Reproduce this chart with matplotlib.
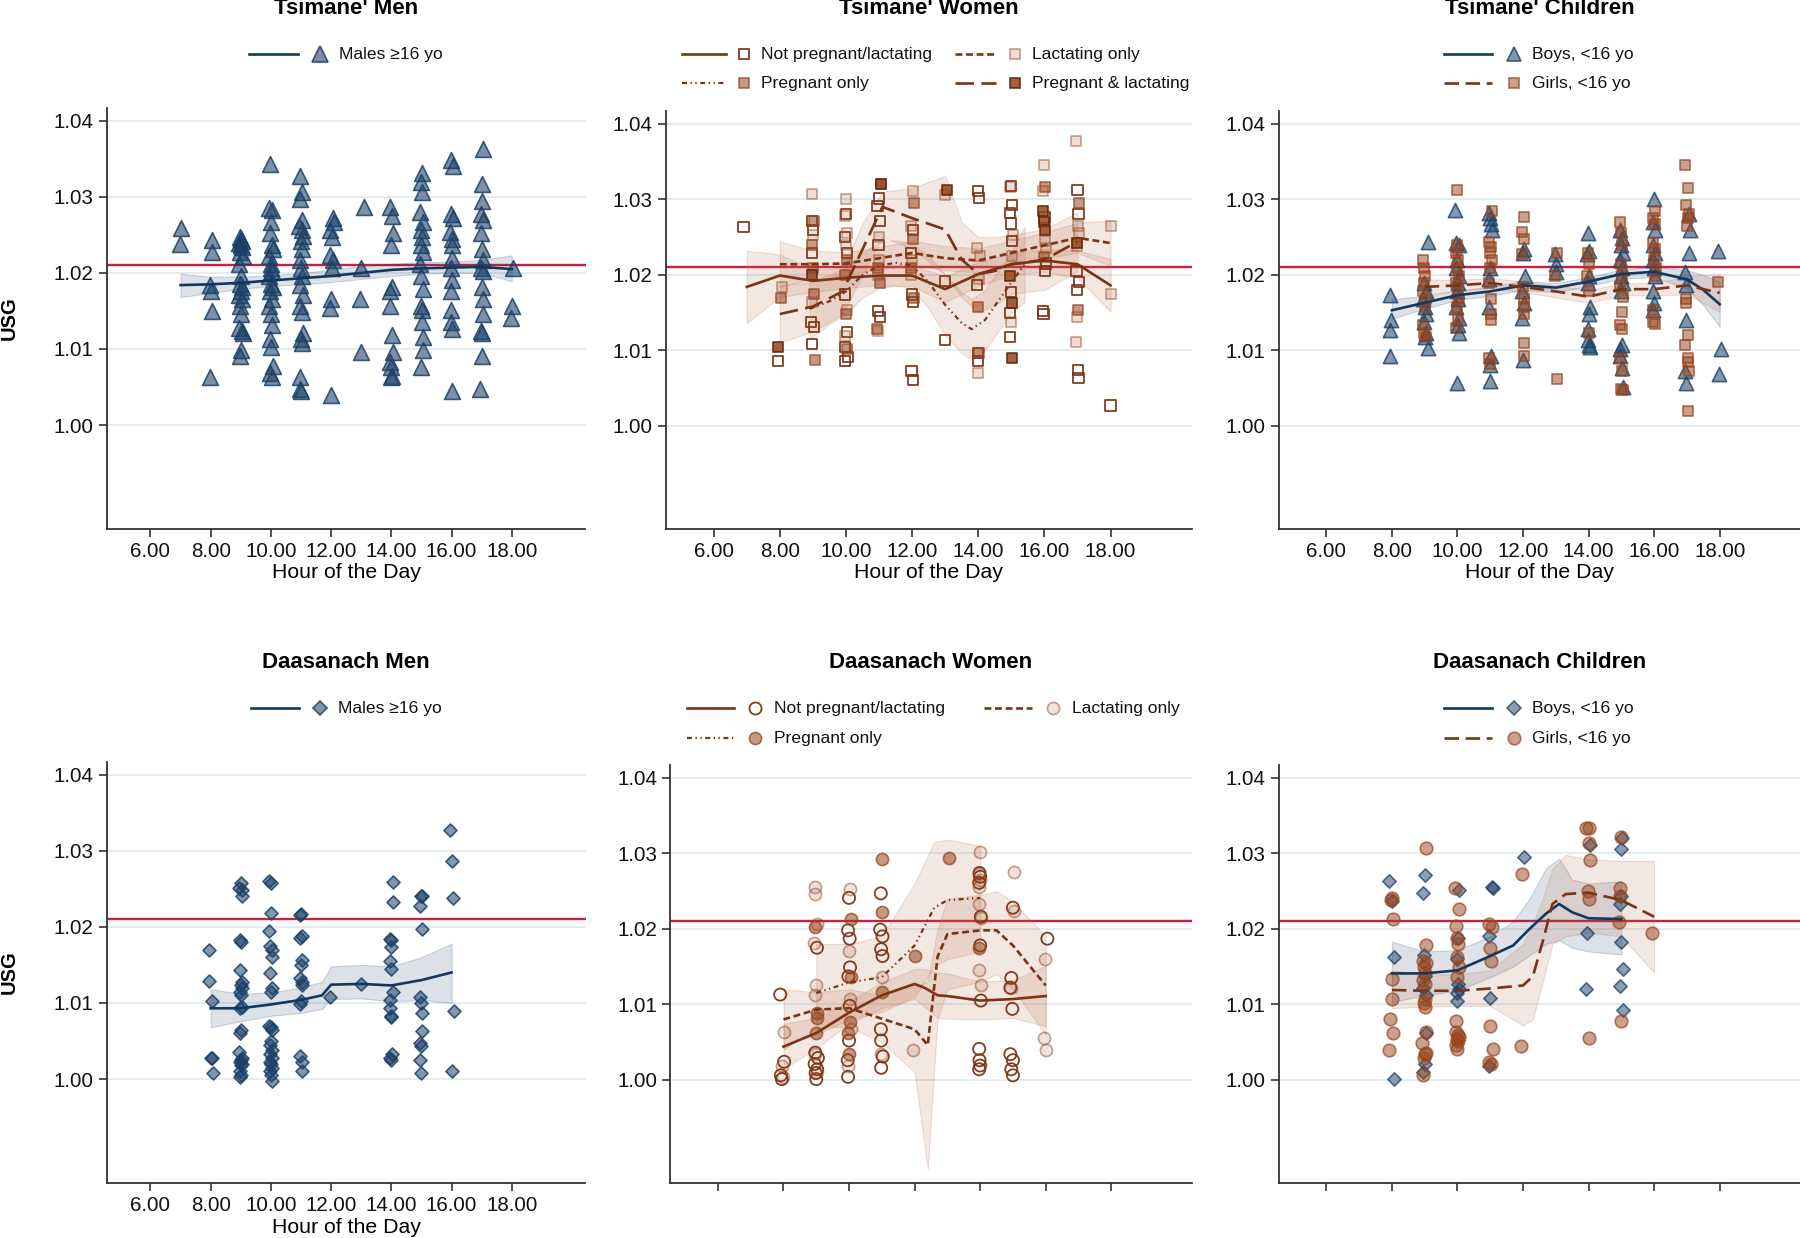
import matplotlib
matplotlib.use('Agg')
import matplotlib.pyplot as plt
from matplotlib.lines import Line2D
from matplotlib.colors import to_rgba

plt.rcParams['font.family'] = ['Liberation Sans', 'DejaVu Sans']

# ---------------- axis ticks ----------------
XTICKS = [6, 8, 10, 12, 14, 16, 18]
XTICKLABELS = ['6.00', '8.00', '10.00', '12.00', '14.00', '16.00', '18.00']
YTICKS = [1.00, 1.01, 1.02, 1.03, 1.04]
YTICKLABELS = ['1.00', '1.01', '1.02', '1.03', '1.04']
THRESHOLD = 1.021

TITLES = ["Tsimane' Men", "Tsimane' Women", "Tsimane' Children",
          "Daasanach Men", "Daasanach Women", "Daasanach Children"]

# ---------------- Tsimane' men ----------------
tm_men_hour = [7.02, 6.97,
               8.03, 8.06, 7.97, 8.02, 8.05, 7.98,
               8.98, 9.02, 9.05, 8.95, 9.0, 9.03, 8.97, 9.06, 8.94, 9.01, 8.96, 9.04, 9.0, 8.93, 9.05, 8.98, 9.02, 8.95, 9.03, 9.07, 9.0, 8.98,
               9.98, 9.93, 10.05, 10.0, 9.96, 10.03, 10.07, 9.95, 10.02, 9.99, 10.04, 9.94, 10.01, 10.06, 9.97, 10.03, 9.95, 10.0, 10.04, 9.97, 10.02, 10.06, 9.98, 10.04,
               10.98, 11.03, 10.97, 11.05, 10.95, 11.02, 11.06, 10.99, 11.04, 10.96, 11.01, 11.05, 10.98, 11.07, 10.97, 11.02, 11.06, 10.99, 11.04, 10.98, 10.96, 11.01,
               12.05, 12.1, 11.96, 12.03, 11.98, 12.06, 12.02, 12.0, 11.97, 12.0,
               13.1, 13.0, 12.95, 13.0,
               13.95, 14.03, 14.05, 13.98, 14.02, 13.97, 13.94, 14.03, 14.04, 13.97, 14.0, 14.03, 13.99,
               15.02, 14.98, 15.03, 14.95, 15.05, 14.97, 15.02, 14.99, 15.04, 14.96, 15.0, 15.05, 14.97, 15.01, 15.03, 15.05, 15.04, 14.97,
               15.98, 16.05, 15.97, 16.04, 15.96, 16.02, 16.0, 16.03, 15.97, 16.01, 15.99, 15.97, 15.98, 16.0, 16.03,
               17.03, 17.0, 17.02, 16.98, 17.05, 16.97, 17.02, 17.04, 16.99, 17.06, 17.0, 17.03, 17.05, 16.98, 17.02, 17.01, 16.95,
               18.05, 18.02, 17.98]
tm_men_usg = [1.0259, 1.0238,
              1.0243, 1.0228, 1.0184, 1.0176, 1.0150, 1.0063,
              1.0247, 1.0244, 1.0242, 1.0239, 1.0237, 1.0234, 1.0227, 1.0222, 1.0212, 1.0196, 1.0186, 1.0181, 1.0176, 1.0171, 1.0166, 1.0156, 1.0146, 1.0128, 1.0123, 1.0121, 1.0098, 1.0091,
              1.0343, 1.0285, 1.0283, 1.0267, 1.0252, 1.0237, 1.0232, 1.0222, 1.0212, 1.0207, 1.0202, 1.0196, 1.0186, 1.0181, 1.0176, 1.0166, 1.0156, 1.0146, 1.0131, 1.0113, 1.0103, 1.0078, 1.0068, 1.0063,
              1.0327, 1.0307, 1.0297, 1.0270, 1.0262, 1.0257, 1.0249, 1.0242, 1.0232, 1.0217, 1.0207, 1.0196, 1.0184, 1.0171, 1.0156, 1.0149, 1.0121, 1.0113, 1.0108, 1.0063, 1.0048, 1.0045,
              1.0272, 1.0267, 1.0257, 1.0247, 1.0224, 1.0217, 1.0207, 1.0166, 1.0154, 1.0040,
              1.0287, 1.0207, 1.0166, 1.0096,
              1.0287, 1.0275, 1.0252, 1.0237, 1.0181, 1.0176, 1.0156, 1.0118, 1.0096, 1.0083, 1.0076, 1.0065, 1.0063,
              1.0332, 1.0320, 1.0307, 1.0280, 1.0267, 1.0257, 1.0247, 1.0237, 1.0227, 1.0212, 1.0196, 1.0179, 1.0156, 1.0151, 1.0136, 1.0116, 1.0098, 1.0076,
              1.0348, 1.0340, 1.0277, 1.0272, 1.0254, 1.0244, 1.0237, 1.0219, 1.0207, 1.0191, 1.0176, 1.0151, 1.0136, 1.0126, 1.0045,
              1.0363, 1.0317, 1.0295, 1.0277, 1.0270, 1.0252, 1.0232, 1.0217, 1.0207, 1.0202, 1.0181, 1.0166, 1.0146, 1.0123, 1.0121, 1.0091, 1.0048,
              1.0207, 1.0156, 1.0141]
tm_men_fit_hour = [7, 8, 9, 10, 11, 12, 13, 14, 15, 16, 17, 18]
tm_men_fit = [1.0184, 1.0185, 1.0187, 1.0190, 1.0193, 1.0196, 1.0200, 1.0204, 1.0206, 1.0207, 1.0208, 1.0205]
tm_men_lo = [1.0168, 1.0174, 1.0179, 1.0183, 1.0185, 1.0188, 1.0192, 1.0196, 1.0199, 1.0200, 1.0200, 1.0189]
tm_men_hi = [1.0199, 1.0195, 1.0195, 1.0197, 1.0200, 1.0204, 1.0209, 1.0212, 1.0214, 1.0215, 1.0217, 1.0223]

# ---------------- Tsimane' women ----------------
tw_np_hour = [6.9, 7.95,
              8.98, 9.0, 8.96, 8.94, 9.02, 8.97,
              10.0, 9.98, 10.02, 9.97, 10.03, 9.96, 10.05, 9.97,
              11.0, 10.95, 11.02, 10.98, 10.97, 11.03,
              12.02, 11.96, 12.0, 12.03, 11.98, 12.03,
              13.0, 13.0,
              14.0, 14.03, 13.97, 13.98, 14.0,
              14.98, 15.02, 14.97, 15.0, 15.02, 15.0, 14.97, 14.96,
              16.0, 16.04, 16.02, 15.96, 15.97,
              17.0, 17.03, 16.97, 17.04, 16.98, 17.02, 17.03,
              18.0]
tw_np_usg = [1.0263, 1.0086,
             1.0271, 1.0259, 1.0229, 1.0138, 1.0131, 1.0108,
             1.0281, 1.0250, 1.0229, 1.0174, 1.0124, 1.0104, 1.0091, 1.0086,
             1.0301, 1.0291, 1.0271, 1.0240, 1.0152, 1.0144,
             1.0259, 1.0229, 1.0174, 1.0164, 1.0073, 1.0061,
             1.0192, 1.0114,
             1.0311, 1.0302, 1.0187, 1.0096, 1.0086,
             1.0318, 1.0293, 1.0282, 1.0268, 1.0245, 1.0177, 1.0149, 1.0118,
             1.0276, 1.0215, 1.0205, 1.0152, 1.0148,
             1.0312, 1.0281, 1.0205, 1.0190, 1.0180, 1.0074, 1.0063,
             1.0027]
tw_lac_hour = [8.05,
               8.96, 9.0, 8.98,
               10.0, 9.98, 10.02, 10.0, 10.03, 9.97,
               11.0, 11.0, 10.97, 10.98,
               12.03, 11.95, 12.0, 11.97,
               13.0,
               13.95, 14.05, 14.02, 13.98,
               14.95, 15.05, 15.03, 15.0,
               16.0, 15.97, 16.02, 16.04,
               16.95, 17.0, 17.03, 16.97, 16.98, 16.95,
               18.0, 18.0]
tw_lac_usg = [1.0184,
              1.0307, 1.0253, 1.0164,
              1.0300, 1.0278, 1.0256, 1.0240, 1.0154, 1.0119,
              1.0250, 1.0220, 1.0200, 1.0126,
              1.0311, 1.0264, 1.0220, 1.0200,
              1.0306,
              1.0235, 1.0225, 1.0195, 1.0070,
              1.0316, 1.0253, 1.0225, 1.0138,
              1.0346, 1.0311, 1.0245, 1.0235,
              1.0377, 1.0265, 1.0255, 1.0238, 1.0144, 1.0111,
              1.0264, 1.0174]
tw_preg_hour = [8.02,
                9.02, 8.97, 9.0, 9.03, 9.05,
                10.02, 9.98, 10.0, 10.04,
                11.05, 10.98, 11.02, 10.95,
                12.05, 12.03, 11.97, 12.06,
                14.0, 14.02,
                16.02, 15.98,
                17.03, 17.02]
tw_preg_usg = [1.0169,
               1.0271, 1.0240, 1.0209, 1.0174, 1.0087,
               1.0220, 1.0200, 1.0148, 1.0102,
               1.0320, 1.0209, 1.0189, 1.0128,
               1.0295, 1.0247, 1.0209, 1.0169,
               1.0158, 1.0097,
               1.0316, 1.0224,
               1.0295, 1.0153]
tw_pl_hour = [7.95, 8.97, 11.05, 13.05, 14.97, 15.03, 15.02, 15.95, 16.0, 16.03, 16.97]
tw_pl_usg = [1.0105, 1.0200, 1.0320, 1.0313, 1.0199, 1.0163, 1.0090, 1.0285, 1.0270, 1.0260, 1.0242]

tw_np_fit_hour = [7, 8, 9, 10, 11, 12, 13, 14, 15, 16, 17, 18]
tw_np_fit = [1.0184, 1.0199, 1.0192, 1.0196, 1.0199, 1.0199, 1.0181, 1.0201, 1.0214, 1.0219, 1.0214, 1.0186]
tw_np_lo = [1.0136, 1.0171, 1.0177, 1.0183, 1.0186, 1.0185, 1.0164, 1.0185, 1.0200, 1.0204, 1.0196, 1.0151]
tw_np_hi = [1.0232, 1.0227, 1.0207, 1.0209, 1.0212, 1.0213, 1.0198, 1.0217, 1.0228, 1.0234, 1.0232, 1.0221]
tw_lac_fit_hour = [8, 9, 10, 11, 12, 13, 14, 15, 16, 17, 18]
tw_lac_fit = [1.0214, 1.0214, 1.0215, 1.0222, 1.0229, 1.0222, 1.0219, 1.0229, 1.0239, 1.0249, 1.0242]
tw_lac_lo = [1.0184, 1.0196, 1.0200, 1.0207, 1.0213, 1.0206, 1.0203, 1.0213, 1.0222, 1.0229, 1.0212]
tw_lac_hi = [1.0244, 1.0232, 1.0230, 1.0237, 1.0245, 1.0238, 1.0235, 1.0245, 1.0256, 1.0269, 1.0272]
tw_preg_fit_hour = [8.9, 9.5, 10, 10.5, 11, 11.5, 12, 12.5, 13, 13.5, 13.8, 14.2, 14.6, 15, 15.4]
tw_preg_fit = [1.0155, 1.0165, 1.0178, 1.0200, 1.0212, 1.0216, 1.0212, 1.0190, 1.0160, 1.0136, 1.0128, 1.0140, 1.0165, 1.0190, 1.0214]
tw_preg_lo = [1.0115, 1.0135, 1.0148, 1.0170, 1.0182, 1.0186, 1.0182, 1.0155, 1.0120, 1.0096, 1.0088, 1.0100, 1.0125, 1.0150, 1.0164]
tw_preg_hi = [1.0195, 1.0195, 1.0208, 1.0230, 1.0242, 1.0246, 1.0242, 1.0225, 1.0200, 1.0176, 1.0168, 1.0180, 1.0205, 1.0230, 1.0264]
tw_pl_fit_hour = [8, 9, 9.9, 10.5, 11.1, 12, 13, 13.5, 14, 14.5, 15, 16, 17]
tw_pl_fit = [1.0148, 1.0158, 1.0178, 1.0234, 1.0290, 1.0275, 1.0260, 1.0220, 1.0201, 1.0205, 1.0214, 1.0220, 1.0244]
tw_pl_lo = [1.0110, 1.0125, 1.0148, 1.0200, 1.0250, 1.0235, 1.0200, 1.0170, 1.0150, 1.0160, 1.0175, 1.0180, 1.0205]
tw_pl_hi = [1.0186, 1.0191, 1.0208, 1.0268, 1.0310, 1.0315, 1.0331, 1.0270, 1.0250, 1.0250, 1.0253, 1.0260, 1.0283]

# ---------------- Tsimane' children ----------------
tc_boy_hour = [7.95, 7.98, 7.93, 7.94,
               9.1, 8.97, 9.05, 8.95, 9.0, 9.03, 8.98, 9.05, 9.02, 9.1,
               9.93, 9.95, 10.05, 10.0, 9.97, 10.04, 10.02, 9.98, 10.03, 9.96, 10.05, 10.01, 10.04, 9.98,
               10.95, 10.98, 11.02, 11.05, 11.0, 10.97, 10.96, 11.03, 10.98, 11.0,
               12.03, 12.0, 12.05, 11.97, 12.02, 11.98, 11.99,
               12.98, 13.02, 13.0,
               13.97, 14.02, 13.95, 14.0, 13.98, 14.03, 14.01, 13.98, 13.97, 14.02, 14.04,
               14.95, 15.02, 14.98, 15.04, 14.96, 15.03, 14.99, 15.05, 15.0, 15.02, 14.97, 14.95, 15.03, 15.06,
               16.0, 15.97, 16.02, 15.98, 16.03, 15.96, 16.01, 16.04, 15.97, 16.0, 15.98,
               17.05, 17.08, 17.07, 16.95, 16.97, 16.98, 16.95, 16.97,
               17.95, 18.05, 17.98]
tc_boy_usg = [1.0173, 1.0140, 1.0127, 1.0092,
              1.0244, 1.0189, 1.0178, 1.0168, 1.0158, 1.0148, 1.0138, 1.0123, 1.0118, 1.0103,
              1.0286, 1.0242, 1.0239, 1.0219, 1.0209, 1.0199, 1.0189, 1.0178, 1.0168, 1.0158, 1.0143, 1.0133, 1.0123, 1.0057,
              1.0282, 1.0275, 1.0267, 1.0260, 1.0209, 1.0194, 1.0158, 1.0092, 1.0080, 1.0059,
              1.0234, 1.0229, 1.0199, 1.0178, 1.0163, 1.0143, 1.0087,
              1.0227, 1.0214, 1.0204,
              1.0255, 1.0232, 1.0227, 1.0199, 1.0189, 1.0158, 1.0148, 1.0128, 1.0113, 1.0107, 1.0105,
              1.0260, 1.0249, 1.0239, 1.0229, 1.0219, 1.0209, 1.0199, 1.0189, 1.0178, 1.0107, 1.0102, 1.0092, 1.0077, 1.0052,
              1.0300, 1.0270, 1.0260, 1.0239, 1.0229, 1.0219, 1.0209, 1.0199, 1.0178, 1.0163, 1.0153,
              1.0280, 1.0260, 1.0229, 1.0204, 1.0186, 1.0140, 1.0072, 1.0057,
              1.0232, 1.0102, 1.0069]
tc_girl_hour = [8.95, 8.97, 9.02, 8.99, 8.96, 9.04, 9.01, 8.95, 8.98, 9.03,
                9.98, 10.0, 9.97, 10.03, 9.99, 10.04, 9.96, 10.02, 10.05, 9.98, 10.01, 9.97,
                11.05, 10.97, 11.02, 10.98, 11.04, 11.0, 10.96, 11.03, 11.01, 11.02, 10.95, 11.0,
                12.02, 11.97, 12.03, 11.98, 12.0, 12.04, 12.02, 12.03, 12.04, 12.02,
                13.05, 12.98, 13.05,
                13.97, 14.0, 13.96, 14.02, 14.01,
                14.97, 15.0, 15.03, 14.98, 15.02, 14.96, 15.04, 15.03, 14.97, 15.02, 14.96, 15.03, 14.98, 15.04,
                16.02, 15.98, 16.04, 15.96, 16.03, 15.99, 16.05, 16.02, 15.97, 15.96, 16.04,
                16.95, 17.02, 16.97, 17.05, 17.03, 17.0, 16.96, 16.97, 17.02, 16.95, 17.04, 17.03, 17.05, 17.02,
                17.95]
tc_girl_usg = [1.0219, 1.0209, 1.0199, 1.0189, 1.0178, 1.0168, 1.0158, 1.0133, 1.0123, 1.0118,
               1.0312, 1.0239, 1.0229, 1.0219, 1.0209, 1.0199, 1.0189, 1.0178, 1.0168, 1.0158, 1.0143, 1.0130,
               1.0285, 1.0244, 1.0237, 1.0229, 1.0219, 1.0209, 1.0189, 1.0168, 1.0148, 1.0140, 1.0090, 1.0082,
               1.0277, 1.0257, 1.0247, 1.0227, 1.0184, 1.0168, 1.0158, 1.0148, 1.0110, 1.0092,
               1.0229, 1.0199, 1.0062,
               1.0229, 1.0214, 1.0199, 1.0178, 1.0123,
               1.0270, 1.0255, 1.0239, 1.0214, 1.0199, 1.0184, 1.0171, 1.0151, 1.0133, 1.0128, 1.0090, 1.0072, 1.0049, 1.0047,
               1.0285, 1.0275, 1.0267, 1.0242, 1.0234, 1.0219, 1.0209, 1.0199, 1.0153, 1.0138, 1.0135,
               1.0346, 1.0315, 1.0293, 1.0280, 1.0275, 1.0265, 1.0168, 1.0163, 1.0120, 1.0107, 1.0090, 1.0085, 1.0072, 1.0020,
               1.0190]
tc_boy_fit_hour = [8, 9, 10, 11, 12, 13, 14, 15, 16, 17, 17.5, 18]
tc_boy_fit = [1.0153, 1.0163, 1.0173, 1.0178, 1.0186, 1.0183, 1.0191, 1.0201, 1.0204, 1.0194, 1.0180, 1.0161]
tc_boy_lo = [1.0142, 1.0155, 1.0167, 1.0172, 1.0180, 1.0177, 1.0185, 1.0195, 1.0197, 1.0182, 1.0160, 1.0131]
tc_boy_hi = [1.0168, 1.0172, 1.0179, 1.0184, 1.0192, 1.0189, 1.0197, 1.0207, 1.0211, 1.0206, 1.0200, 1.0191]
tc_girl_fit_hour = [9, 10, 11, 12, 13, 14, 15, 16, 17, 18]
tc_girl_fit = [1.0184, 1.0186, 1.0189, 1.0184, 1.0178, 1.0171, 1.0181, 1.0181, 1.0186, 1.0176]
tc_girl_lo = [1.0174, 1.0179, 1.0182, 1.0177, 1.0170, 1.0163, 1.0173, 1.0173, 1.0174, 1.0151]
tc_girl_hi = [1.0194, 1.0193, 1.0196, 1.0191, 1.0186, 1.0179, 1.0189, 1.0189, 1.0198, 1.0201]

# ---------------- Daasanach men ----------------
dm_men_hour = [7.93, 7.95, 8.03, 8.0, 8.05, 8.07,
               9.0, 8.95, 9.03, 9.05, 8.98, 9.02, 8.97, 9.03, 9.0, 9.05, 8.96, 9.02, 9.04, 8.99, 9.0, 8.97, 8.95, 9.04, 9.01, 8.97, 9.05, 9.02, 8.98, 9.0, 8.96,
               9.95, 10.0, 10.0, 9.95, 9.97, 10.03, 10.05, 9.98, 10.03, 10.0, 9.95, 10.0, 10.04, 10.02, 9.97, 10.03, 9.96, 10.05, 9.98, 10.01, 10.04, 9.97, 10.02, 10.03,
               11.0, 10.98, 11.03, 10.97, 11.02, 11.0, 10.96, 11.03, 11.05, 11.01, 10.98, 10.97, 11.04, 11.02,
               11.95, 12.98,
               14.05, 14.05, 13.97, 14.0, 13.98, 13.97, 14.0, 14.05, 13.97, 13.97, 13.98, 14.0, 14.02, 13.96, 14.0,
               15.0, 15.02, 14.95, 15.02, 14.95, 15.0, 15.03, 15.02, 14.95, 15.0, 14.95, 15.0,
               15.95, 16.02, 16.05, 16.08, 16.0]
dm_men_usg = [1.0169, 1.0129, 1.0103, 1.0028, 1.0027, 1.0008,
              1.0258, 1.0251, 1.0248, 1.0241, 1.0183, 1.0180, 1.0143, 1.0128, 1.0123, 1.0120, 1.0115, 1.0110, 1.0095, 1.0093, 1.0065, 1.0060, 1.0035, 1.0028, 1.0025, 1.0023, 1.0020, 1.0018, 1.0010, 1.0005, 1.0003,
              1.0260, 1.0257, 1.0218, 1.0195, 1.0175, 1.0170, 1.0160, 1.0140, 1.0120, 1.0115, 1.0070, 1.0068, 1.0065, 1.0050, 1.0045, 1.0038, 1.0033, 1.0028, 1.0023, 1.0020, 1.0015, 1.0010, 1.0005, 0.9997,
              1.0217, 1.0215, 1.0188, 1.0185, 1.0156, 1.0150, 1.0133, 1.0128, 1.0123, 1.0103, 1.0098, 1.0030, 1.0023, 1.0010,
              1.0108, 1.0125,
              1.0259, 1.0233, 1.0184, 1.0183, 1.0174, 1.0155, 1.0145, 1.0115, 1.0104, 1.0093, 1.0083, 1.0082, 1.0033, 1.0028, 1.0025,
              1.0241, 1.0240, 1.0227, 1.0197, 1.0108, 1.0100, 1.0087, 1.0063, 1.0048, 1.0043, 1.0025, 1.0008,
              1.0327, 1.0286, 1.0238, 1.0089, 1.0011]
dm_men_fit_hour = [8, 9, 10, 11, 11.7, 12, 13, 14, 15, 16]
dm_men_fit = [1.0093, 1.0093, 1.0098, 1.0104, 1.0110, 1.0124, 1.0125, 1.0123, 1.0130, 1.0140]
dm_men_lo = [1.0068, 1.0076, 1.0083, 1.0087, 1.0092, 1.0105, 1.0106, 1.0102, 1.0104, 1.0100]
dm_men_hi = [1.0118, 1.0112, 1.0114, 1.0120, 1.0128, 1.0148, 1.0150, 1.0148, 1.0160, 1.0178]

# ---------------- Daasanach women ----------------
dw_np_hour = [7.9, 8.02, 7.92, 7.95,
              9.02, 8.97, 9.05, 8.95, 9.03, 8.98, 9.0,
              10.0, 9.97, 10.02, 10.03, 9.98, 10.02, 10.0, 9.96, 9.97,
              10.97, 10.95, 11.02, 10.98, 11.02, 10.97, 10.98, 11.03, 10.98,
              13.98, 14.0, 13.97, 14.02, 14.0, 14.02, 13.97, 13.98, 14.0, 13.97,
              15.0, 14.95, 14.92, 14.98, 14.92, 15.0, 14.95, 15.0,
              16.05]
dw_np_usg = [1.0113, 1.0024, 1.0006, 1.0001,
             1.0175, 1.0036, 1.0029, 1.0021, 1.0014, 1.0009, 1.0001,
             1.0241, 1.0198, 1.0187, 1.0149, 1.0137, 1.0098, 1.0052, 1.0026, 1.0004,
             1.0247, 1.0199, 1.0190, 1.0173, 1.0164, 1.0067, 1.0052, 1.0031, 1.0016,
             1.0274, 1.0269, 1.0261, 1.0216, 1.0178, 1.0105, 1.0041, 1.0026, 1.0019, 1.0014,
             1.0228, 1.0135, 1.0122, 1.0094, 1.0034, 1.0026, 1.0014, 1.0006,
             1.0187]
dw_lac_hour = [8.03, 7.95, 8.0,
               8.95, 8.97, 9.02, 8.94, 8.98, 8.95, 8.97, 9.02,
               10.02, 10.0, 10.03, 10.05, 9.97,
               11.02, 10.97,
               11.95,
               13.98, 13.97, 14.0, 13.95, 13.96, 14.03, 13.97, 14.03,
               15.03, 15.03, 14.95,
               15.97, 15.95, 16.0]
dw_lac_usg = [1.0063, 1.0019, 1.0004,
              1.0255, 1.0246, 1.0206, 1.0181, 1.0126, 1.0113, 1.0034, 1.0011,
              1.0253, 1.0170, 1.0107, 1.0067, 1.0019,
              1.0136, 1.0034,
              1.0040,
              1.0302, 1.0273, 1.0265, 1.0255, 1.0233, 1.0214, 1.0145, 1.0125,
              1.0275, 1.0223, 1.0122,
              1.0160, 1.0056, 1.0040]
dw_preg_hour = [8.96, 9.02, 9.03, 9.0,
                10.05, 10.05, 10.03, 9.98, 10.0,
                11.0, 11.0, 11.02,
                12.0, 13.05, 13.97]
dw_preg_usg = [1.0202, 1.0089, 1.0082, 1.0062,
               1.0213, 1.0136, 1.0077, 1.0062, 1.0034,
               1.0293, 1.0222, 1.0117,
               1.0164, 1.0294, 1.0174]
dw_np_fit_hour = [8, 9, 10, 11, 12, 12.3, 12.7, 13, 14, 15, 16]
dw_np_fit = [1.0044, 1.0062, 1.0089, 1.0112, 1.0127, 1.0122, 1.0112, 1.0111, 1.0105, 1.0107, 1.0111]
dw_np_lo = [1.0014, 1.0042, 1.0074, 1.0095, 1.0107, 1.0097, 1.0082, 1.0081, 1.0080, 1.0082, 1.0071]
dw_np_hi = [1.0074, 1.0082, 1.0104, 1.0129, 1.0147, 1.0147, 1.0142, 1.0141, 1.0130, 1.0132, 1.0151]
dw_lac_fit_hour = [8, 9, 10, 11, 12, 12.4, 12.7, 13, 14, 14.5, 15, 16]
dw_lac_fit = [1.0080, 1.0093, 1.0095, 1.0081, 1.0067, 1.0046, 1.0163, 1.0193, 1.0198, 1.0198, 1.0178, 1.0125]
dw_lac_lo = [1.0040, 1.0070, 1.0070, 1.0050, 1.0010, 0.9882, 1.0080, 1.0120, 1.0130, 1.0140, 1.0120, 1.0060]
dw_lac_hi = [1.0120, 1.0116, 1.0120, 1.0112, 1.0124, 1.0130, 1.0200, 1.0240, 1.0245, 1.0250, 1.0236, 1.0190]
dw_preg_fit_hour = [9, 10, 11, 12, 12.6, 13, 14]
dw_preg_fit = [1.0115, 1.0129, 1.0136, 1.0178, 1.0228, 1.0238, 1.0241]
dw_preg_lo = [1.0060, 1.0080, 1.0090, 1.0110, 1.0150, 1.0160, 1.0170]
dw_preg_hi = [1.0180, 1.0180, 1.0190, 1.0260, 1.0315, 1.0318, 1.0310]

# ---------------- Daasanach children ----------------
dc_boy_hour = [7.9, 8.0, 8.07, 8.05,
               9.0, 8.95, 8.97, 9.02, 8.95, 9.05, 9.03, 9.02, 8.95,
               10.05, 10.02, 10.0, 10.03, 10.05, 10.0, 10.0,
               11.05, 11.07, 10.95, 11.0, 10.97,
               12.03,
               14.05, 13.95, 13.93,
               15.03, 14.98, 14.98, 14.97, 15.0, 15.05, 14.96, 15.05]
dc_boy_usg = [1.0264, 1.0237, 1.0163, 1.0001,
              1.0271, 1.0247, 1.0165, 1.0137, 1.0122, 1.0112, 1.0062, 1.0021, 1.0011,
              1.0251, 1.0188, 1.0160, 1.0127, 1.0120, 1.0115, 1.0105,
              1.0255, 1.0254, 1.0190, 1.0109, 1.0019,
              1.0295,
              1.0311, 1.0194, 1.0120,
              1.0320, 1.0306, 1.0244, 1.0233, 1.0183, 1.0147, 1.0124, 1.0092]
dc_girl_hour = [8.0, 7.98, 8.03, 8.01, 8.0, 7.93, 8.03, 7.92,
                9.05, 9.04, 8.95, 9.03, 8.98, 9.0, 8.96, 9.02, 9.0, 8.98, 9.02, 9.04, 8.92, 9.03, 9.0, 8.97, 8.95,
                9.92, 10.05, 9.95, 10.0, 10.02, 10.0, 10.05, 9.98, 9.95, 9.97, 10.02, 10.05, 9.98, 10.03, 9.97, 10.0,
                10.95, 11.05, 10.98, 11.03, 11.0, 11.07, 10.95, 11.02,
                11.97, 11.93,
                13.93, 14.02, 14.0, 14.05, 13.98, 14.0, 14.02,
                15.0, 14.95, 14.97, 14.93, 15.0,
                15.95]
dc_girl_usg = [1.0241, 1.0238, 1.0213, 1.0133, 1.0107, 1.0081, 1.0062, 1.0040,
               1.0307, 1.0178, 1.0158, 1.0155, 1.0150, 1.0142, 1.0132, 1.0127, 1.0107, 1.0102, 1.0097, 1.0064, 1.0049, 1.0036, 1.0034, 1.0029, 1.0006,
               1.0254, 1.0226, 1.0204, 1.0188, 1.0180, 1.0163, 1.0150, 1.0136, 1.0078, 1.0064, 1.0059, 1.0057, 1.0054, 1.0052, 1.0046, 1.0041,
               1.0206, 1.0203, 1.0175, 1.0158, 1.0071, 1.0041, 1.0024, 1.0021,
               1.0273, 1.0045,
               1.0334, 1.0333, 1.0314, 1.0291, 1.0250, 1.0239, 1.0056,
               1.0322, 1.0254, 1.0244, 1.0209, 1.0078,
               1.0194]
dc_boy_fit_hour = [8, 9, 10, 11, 11.7, 12.2, 12.7, 13.1, 13.5, 14, 15]
dc_boy_fit = [1.0141, 1.0141, 1.0145, 1.0164, 1.0178, 1.0200, 1.0220, 1.0233, 1.0222, 1.0214, 1.0213]
dc_boy_lo = [1.0103, 1.0112, 1.0118, 1.0136, 1.0150, 1.0165, 1.0180, 1.0185, 1.0175, 1.0170, 1.0166]
dc_boy_hi = [1.0183, 1.0170, 1.0172, 1.0190, 1.0210, 1.0240, 1.0280, 1.0293, 1.0265, 1.0260, 1.0263]
dc_girl_fit_hour = [8, 9, 10, 11, 12, 12.3, 12.6, 12.9, 13.3, 14, 15, 16]
dc_girl_fit = [1.0119, 1.0118, 1.0118, 1.0121, 1.0125, 1.0137, 1.0183, 1.0233, 1.0246, 1.0248, 1.0238, 1.0216]
dc_girl_lo = [1.0095, 1.0097, 1.0098, 1.0098, 1.0072, 1.0080, 1.0130, 1.0180, 1.0190, 1.0195, 1.0190, 1.0142]
dc_girl_hi = [1.0145, 1.0140, 1.0140, 1.0145, 1.0180, 1.0205, 1.0240, 1.0280, 1.0298, 1.0292, 1.0290, 1.0290]

# ---------------- styling ----------------
NAVY = '#1c4169'
NAVY_LINE = '#15375c'
BROWN = '#96451f'
BROWN_LINE = '#7a3315'
BAND_B = '#b86a45'
RED = '#c8203e'
GRID = '#e3ecef'
SPINE = '#333333'

LS_LACT = (0, (2.6, 1.4))
LS_PREG = (0, (2.2, 1.6, 0.6, 1.6, 0.6, 1.6))
LS_PL = (0, (7, 2.8))
LS_GIRL = (0, (5.5, 2.5))

W, H = 1800, 1238
fig = plt.figure(figsize=(18, 12.38), dpi=100)


def axpos(l, r, t, b):
    return [l / W, 1 - b / H, (r - l) / W, (b - t) / H]


def fy(y):
    return 1 - y / H


def setup(ax, xlabels=True):
    ax.set_xlim(4.55, 20.45)
    ax.set_ylim(0.9863, 1.0417)
    ax.set_xticks(XTICKS)
    ax.set_xticklabels(XTICKLABELS)
    ax.set_yticks(YTICKS)
    ax.set_yticklabels(YTICKLABELS)
    for s in ['top', 'right']:
        ax.spines[s].set_visible(False)
    for s in ['left', 'bottom']:
        ax.spines[s].set_color(SPINE)
        ax.spines[s].set_linewidth(1.3)
    ax.tick_params(axis='both', length=6, width=1.2, color=SPINE, labelsize=14.8,
                   pad=3.5, labelcolor='#111111')
    if not xlabels:
        ax.tick_params(axis='x', labelbottom=False)
    else:
        ax.set_xlabel('Hour of the Day', fontsize=15.3, labelpad=1.5)
    for v in YTICKS:
        ax.axhline(v, color=GRID, lw=1.4, zorder=0)
    ax.axhline(THRESHOLD, color=RED, lw=1.7, zorder=1)


def band(ax, x, lo, hi, color, a=0.14):
    ax.fill_between(x, lo, hi, facecolor=to_rgba(color, a), edgecolor=to_rgba(color, 0.2),
                    lw=0.8, zorder=2)


def mk(kind):
    d = {
        'tri': dict(marker='^', s=130, facecolors=[to_rgba(NAVY, 0.58)], edgecolors=[to_rgba(NAVY, 0.85)], linewidths=1.2),
        'tri_s': dict(marker='^', s=105, facecolors=[to_rgba(NAVY, 0.55)], edgecolors=[to_rgba(NAVY, 0.8)], linewidths=1.2),
        'dia': dict(marker='D', s=44, facecolors=[to_rgba(NAVY, 0.55)], edgecolors=[to_rgba(NAVY, 0.85)], linewidths=1.2),
        'dia_s': dict(marker='D', s=46, facecolors=[to_rgba(NAVY, 0.5)], edgecolors=[to_rgba(NAVY, 0.75)], linewidths=1.2),
        'sq_np': dict(marker='s', s=54, facecolors='none', edgecolors=[to_rgba(BROWN_LINE, 0.95)], linewidths=1.3),
        'sq_l': dict(marker='s', s=54, facecolors=[to_rgba(BROWN, 0.18)], edgecolors=[to_rgba(BROWN, 0.5)], linewidths=1.2),
        'sq_p': dict(marker='s', s=54, facecolors=[to_rgba(BROWN, 0.55)], edgecolors=[to_rgba(BROWN, 0.75)], linewidths=1.2),
        'sq_pl': dict(marker='s', s=54, facecolors=[to_rgba(BROWN, 0.85)], edgecolors=[to_rgba('#5e2509', 0.9)], linewidths=1.2),
        'sq_g': dict(marker='s', s=54, facecolors=[to_rgba(BROWN, 0.5)], edgecolors=[to_rgba(BROWN, 0.75)], linewidths=1.2),
        'c_np': dict(marker='o', s=76, facecolors='none', edgecolors=[to_rgba(BROWN_LINE, 0.95)], linewidths=1.3),
        'c_l': dict(marker='o', s=76, facecolors=[to_rgba(BROWN, 0.15)], edgecolors=[to_rgba(BROWN, 0.5)], linewidths=1.2),
        'c_p': dict(marker='o', s=76, facecolors=[to_rgba(BROWN, 0.55)], edgecolors=[to_rgba(BROWN, 0.75)], linewidths=1.2),
        'c_g': dict(marker='o', s=82, facecolors=[to_rgba(BROWN, 0.5)], edgecolors=[to_rgba(BROWN, 0.7)], linewidths=1.2),
    }
    return d[kind]


def legend_entry(x0, x1, xm, xt, y, line_kw, kind, label):
    fig.add_artist(Line2D([x0 / W, x1 / W], [fy(y), fy(y)], transform=fig.transFigure, **line_kw))
    st = mk(kind)
    fc = st['facecolors']
    fc = fc[0] if fc != 'none' else 'none'
    m = Line2D([xm / W], [fy(y)], transform=fig.transFigure, linestyle='none', marker=st['marker'],
               markersize=st['s'] ** 0.5, markerfacecolor=fc, markeredgecolor=st['edgecolors'][0],
               markeredgewidth=st['linewidths'])
    fig.add_artist(m)
    fig.text(xt / W, fy(y), label, fontsize=12.6, va='center', ha='left', color='#111111')


LW = 1.9
L_NAVY = dict(color=NAVY_LINE, lw=LW, ls='-')
L_BR = dict(color=BROWN_LINE, lw=LW, ls='-')
L_LACT = dict(color=BROWN_LINE, lw=LW, ls=LS_LACT)
L_PREG = dict(color=BROWN_LINE, lw=1.6, ls=LS_PREG)
L_PL = dict(color=BROWN_LINE, lw=LW, ls=LS_PL)
L_GIRL = dict(color=BROWN_LINE, lw=LW, ls=LS_GIRL)

# ---------- Panel 1 ----------
ax1 = fig.add_axes(axpos(106.8, 585.5, 107.9, 529.2))
setup(ax1)
band(ax1, tm_men_fit_hour, tm_men_lo, tm_men_hi, NAVY, 0.15)
ax1.scatter(tm_men_hour, tm_men_usg, zorder=3, **mk('tri'))
ax1.plot(tm_men_fit_hour, tm_men_fit, zorder=4, **L_NAVY)

# ---------- Panel 2 ----------
ax2 = fig.add_axes(axpos(665.8, 1191.6, 111, 529.2))
setup(ax2)
band(ax2, tw_np_fit_hour, tw_np_lo, tw_np_hi, BAND_B, 0.16)
band(ax2, tw_lac_fit_hour, tw_lac_lo, tw_lac_hi, BAND_B, 0.16)
band(ax2, tw_preg_fit_hour, tw_preg_lo, tw_preg_hi, BAND_B, 0.16)
band(ax2, tw_pl_fit_hour, tw_pl_lo, tw_pl_hi, BAND_B, 0.16)
ax2.scatter(tw_np_hour, tw_np_usg, zorder=3, **mk('sq_np'))
ax2.scatter(tw_lac_hour, tw_lac_usg, zorder=3, **mk('sq_l'))
ax2.scatter(tw_preg_hour, tw_preg_usg, zorder=3, **mk('sq_p'))
ax2.scatter(tw_pl_hour, tw_pl_usg, zorder=3, **mk('sq_pl'))
ax2.plot(tw_np_fit_hour, tw_np_fit, zorder=4, **L_BR)
ax2.plot(tw_lac_fit_hour, tw_lac_fit, zorder=4, **L_LACT)
ax2.plot(tw_preg_fit_hour, tw_preg_fit, zorder=4, **L_PREG)
ax2.plot(tw_pl_fit_hour, tw_pl_fit, zorder=4, **L_PL)

# ---------- Panel 3 ----------
ax3 = fig.add_axes(axpos(1278.8, 1800, 111, 529.2))
setup(ax3)
band(ax3, tc_boy_fit_hour, tc_boy_lo, tc_boy_hi, NAVY, 0.15)
band(ax3, tc_girl_fit_hour, tc_girl_lo, tc_girl_hi, BAND_B, 0.16)
ax3.scatter(tc_boy_hour, tc_boy_usg, zorder=3, **mk('tri_s'))
ax3.scatter(tc_girl_hour, tc_girl_usg, zorder=3, **mk('sq_g'))
ax3.plot(tc_boy_fit_hour, tc_boy_fit, zorder=4, **L_NAVY)
ax3.plot(tc_girl_fit_hour, tc_girl_fit, zorder=4, **L_GIRL)

# ---------- Panel 4 ----------
ax4 = fig.add_axes(axpos(106.8, 585.5, 761.7, 1183.3))
setup(ax4)
band(ax4, dm_men_fit_hour, dm_men_lo, dm_men_hi, NAVY, 0.15)
ax4.scatter(dm_men_hour, dm_men_usg, zorder=3, **mk('dia'))
ax4.plot(dm_men_fit_hour, dm_men_fit, zorder=4, **L_NAVY)

# ---------- Panel 5 ----------
ax5 = fig.add_axes(axpos(670.4, 1191.6, 765, 1183.3))
setup(ax5, xlabels=False)
band(ax5, dw_np_fit_hour, dw_np_lo, dw_np_hi, BAND_B, 0.16)
band(ax5, dw_lac_fit_hour, dw_lac_lo, dw_lac_hi, BAND_B, 0.16)
band(ax5, dw_preg_fit_hour, dw_preg_lo, dw_preg_hi, BAND_B, 0.16)
ax5.scatter(dw_np_hour, dw_np_usg, zorder=3, **mk('c_np'))
ax5.scatter(dw_lac_hour, dw_lac_usg, zorder=3, **mk('c_l'))
ax5.scatter(dw_preg_hour, dw_preg_usg, zorder=3, **mk('c_p'))
ax5.plot(dw_np_fit_hour, dw_np_fit, zorder=4, **L_BR)
ax5.plot(dw_lac_fit_hour, dw_lac_fit, zorder=4, **L_LACT)
ax5.plot(dw_preg_fit_hour, dw_preg_fit, zorder=4, **L_PREG)

# ---------- Panel 6 ----------
ax6 = fig.add_axes(axpos(1278.8, 1800, 765, 1183.3))
setup(ax6, xlabels=False)
band(ax6, dc_boy_fit_hour, dc_boy_lo, dc_boy_hi, NAVY, 0.15)
band(ax6, dc_girl_fit_hour, dc_girl_lo, dc_girl_hi, BAND_B, 0.16)
ax6.scatter(dc_boy_hour, dc_boy_usg, zorder=3, **mk('dia_s'))
ax6.scatter(dc_girl_hour, dc_girl_usg, zorder=3, **mk('c_g'))
ax6.plot(dc_boy_fit_hour, dc_boy_fit, zorder=4, **L_NAVY)
ax6.plot(dc_girl_fit_hour, dc_girl_fit, zorder=4, **L_GIRL)

# ---------- titles ----------
title_pos = [(346, 8.5), (928.7, 8.5), (1539.4, 8.5), (346, 662), (931, 662), (1539.4, 662)]
for t, (x, y) in zip(TITLES, title_pos):
    fig.text(x / W, fy(y), t, fontsize=16, fontweight='bold', ha='center', va='center')

# USG labels
for yc in [318.5, 972.5]:
    fig.text(9 / W, fy(yc), 'USG', fontsize=14.5, fontweight='bold', rotation=90,
             ha='center', va='center')

# ---------- legends ----------
legend_entry(249.5, 297.7, 319.6, 338.7, 54, L_NAVY, 'tri', 'Males \u226516 yo')

legend_entry(682, 726, 744, 760.7, 54, L_BR, 'sq_np', 'Not pregnant/lactating')
legend_entry(955, 996, 1015, 1032.5, 54, L_LACT, 'sq_l', 'Lactating only')
legend_entry(682, 726, 744, 760.7, 83.4, L_PREG, 'sq_p', 'Pregnant only')
legend_entry(955, 996, 1015, 1032.5, 83.4, L_PL, 'sq_pl', 'Pregnant & lactating')

legend_entry(1443.8, 1491.6, 1513.8, 1532.2, 54, L_NAVY, 'tri_s', 'Boys, <16 yo')
legend_entry(1443.8, 1491.6, 1513.8, 1532.2, 83.4, L_GIRL, 'sq_g', 'Girls, <16 yo')

legend_entry(250.7, 298.5, 319.6, 337.5, 708, L_NAVY, 'dia', 'Males \u226516 yo')

legend_entry(687, 734, 755, 774, 708, L_BR, 'c_np', 'Not pregnant/lactating')
legend_entry(984, 1032, 1052.7, 1071.5, 708, L_LACT, 'c_l', 'Lactating only')
legend_entry(687, 734, 755, 774, 738, L_PREG, 'c_p', 'Pregnant only')

legend_entry(1443.8, 1491.6, 1513.8, 1532.2, 708, L_NAVY, 'dia_s', 'Boys, <16 yo')
legend_entry(1443.8, 1491.6, 1513.8, 1532.2, 738, L_GIRL, 'c_g', 'Girls, <16 yo')

fig.savefig('out.png', dpi=100)
